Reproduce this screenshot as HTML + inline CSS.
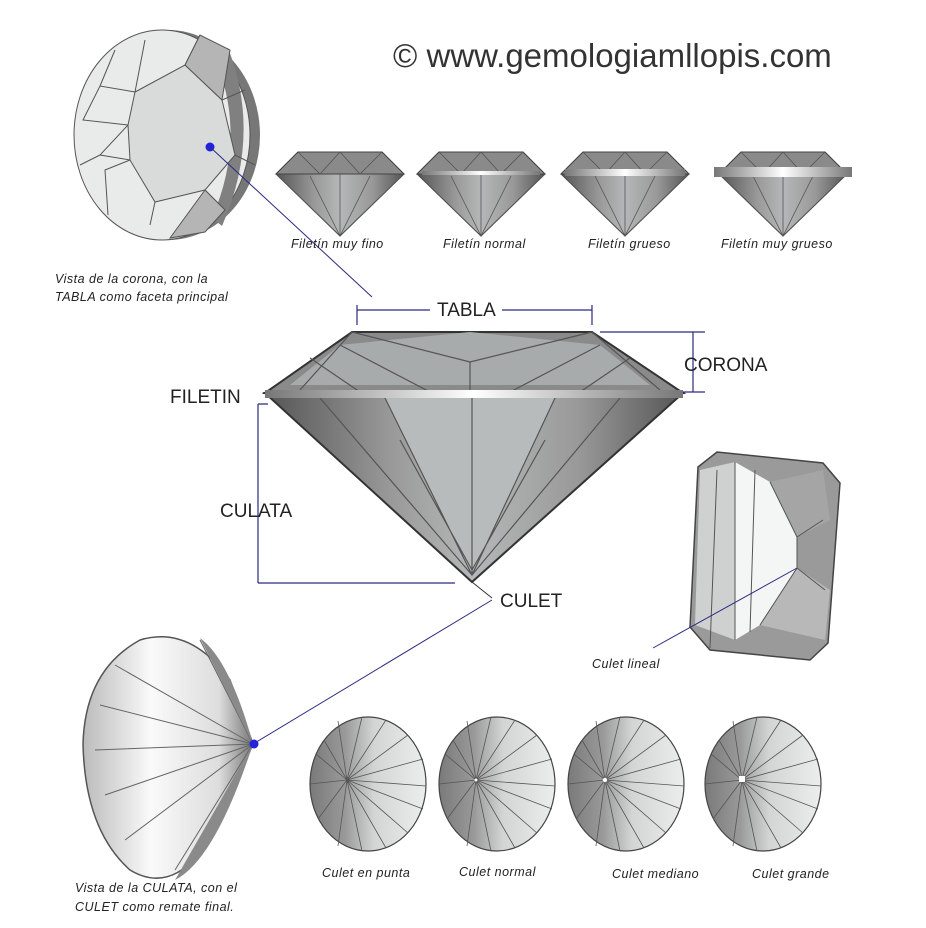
<!DOCTYPE html>
<html><head><meta charset="utf-8"><style>
html,body{margin:0;padding:0;background:#fff}
svg{display:block}
text{font-family:"Liberation Sans",sans-serif}
.it{font-style:italic;font-size:12.5px;fill:#222;letter-spacing:0.5px}
.lb{font-size:19px;fill:#222}
</style></head><body>
<svg width="926" height="928" viewBox="0 0 926 928" xmlns="http://www.w3.org/2000/svg">
<defs>
<linearGradient id="circ" x1="0" x2="1" y1="0" y2="0">
<stop offset="0" stop-color="#7a7a7a"/><stop offset="0.3" stop-color="#999"/><stop offset="0.55" stop-color="#d3d5d5"/><stop offset="1" stop-color="#eceeee"/></linearGradient>
<linearGradient id="pav" x1="0" x2="1"><stop offset="0" stop-color="#555"/><stop offset="0.3" stop-color="#999"/><stop offset="0.5" stop-color="#b5b8b8"/><stop offset="0.75" stop-color="#999"/><stop offset="1" stop-color="#555"/></linearGradient>
<linearGradient id="gird" x1="0" x2="1"><stop offset="0" stop-color="#777"/><stop offset="0.5" stop-color="#fff"/><stop offset="1" stop-color="#777"/></linearGradient>
<linearGradient id="back" x1="0" x2="1"><stop offset="0" stop-color="#bbb"/><stop offset="0.4" stop-color="#fafafa"/><stop offset="0.8" stop-color="#ddd"/><stop offset="1" stop-color="#777"/></linearGradient>
<g id="small">
<polygon points="-64,0 -42,-22 42,-22 64,0 0,62" fill="url(#pav)" stroke="#444" stroke-width="1"/>
<polygon points="-64,0 -42,-22 42,-22 64,0" fill="#8a8a8a" stroke="#444"/>
<path d="M-42,-22 L-20,0 L0,-22 L20,0 L42,-22 M-64,0 L0,62 L64,0 M-30,2 L0,62 L30,2 M0,0 L0,62" stroke="#555" fill="none" stroke-width="0.8"/>
</g>
<g id="circle">
<ellipse cx="0" cy="0" rx="58" ry="67" fill="url(#circ)" stroke="#444" stroke-width="1.2"/>
<path d="M-21,-4 L-30,-63 M-21,-4 L-6,-67 M-21,-4 L18,-64 M-21,-4 L40,-49 M-21,-4 L55,-25 M-21,-4 L58,2 M-21,-4 L55,25 M-21,-4 L40,49 M-21,-4 L18,64 M-21,-4 L-6,67 M-21,-4 L-30,62 M-21,-4 L-50,35 M-21,-4 L-58,0 M-21,-4 L-52,-30 M-21,-4 L-44,-44" stroke="#555" stroke-width="0.8"/>
</g>
</defs>

<text x="393" y="67" font-size="33" fill="#333">© www.gemologiamllopis.com</text>

<!-- crown view -->
<ellipse cx="168" cy="135" rx="92" ry="105" fill="#777"/>
<ellipse cx="162" cy="135" rx="88" ry="105" fill="#e9eaea" stroke="#555"/>
<path d="M228,48 Q262,135 222,226 L212,218 Q248,135 214,56 Z" fill="#808080"/>
<polygon points="135,92 185,65 222,100 235,155 205,190 155,202 130,160 128,125" fill="#d9dbdb" stroke="#555"/>
<path d="M135,92 L100,86 L83,120 L128,125 M128,125 L100,155 L130,160 M130,160 L105,170 L108,215 M155,202 L150,225 M205,190 L225,210 M235,155 L255,165 M222,100 L245,90 M185,65 L200,35 M135,92 L145,40 M100,86 L115,50 M100,155 L80,165" stroke="#555" fill="none"/>
<polygon points="185,65 200,35 230,50 222,100" fill="#b5b5b5" stroke="#555"/>
<polygon points="205,190 225,210 205,232 170,238" fill="#b5b5b5" stroke="#555"/>
<circle cx="210" cy="147" r="4.5" fill="#2222dd"/>
<line x1="210" y1="147" x2="372" y2="297" stroke="#2a2a80" stroke-width="1"/>
<text class="it" x="55" y="283">Vista de la corona, con la</text>
<text class="it" x="55" y="301">TABLA como faceta principal</text>

<use href="#small" x="340" y="174"/>
<use href="#small" x="481" y="174"/>
<use href="#small" x="625" y="174"/>
<use href="#small" x="783" y="174"/>
<rect x="422" y="171" width="118" height="4" fill="url(#gird)"/>
<rect x="565" y="169" width="120" height="7" fill="url(#gird)"/>
<rect x="714" y="167" width="138" height="10" fill="url(#gird)"/>
<text class="it" x="291" y="248">Filetín muy fino</text>
<text class="it" x="443" y="248">Filetín normal</text>
<text class="it" x="588" y="248">Filetín grueso</text>
<text class="it" x="721" y="248">Filetín muy grueso</text>

<!-- main diamond -->
<polygon points="265,393 683,393 472,582" fill="url(#pav)" stroke="#333" stroke-width="2"/>
<polygon points="265,393 352,332 592,332 683,393" fill="#8a8a8a" stroke="#333" stroke-width="2"/>
<polygon points="340,345 470,332 600,345 650,385 290,385" fill="#a8abab"/>
<path d="M352,332 L300,390 M592,332 L660,390 M352,332 L470,362 L592,332 M340,345 L430,392 M600,345 L510,392 M470,362 L470,392 M310,358 L360,392 M630,358 L580,392" stroke="#555" fill="none" stroke-width="1.2"/>
<polygon points="385,398 555,398 472,575" fill="#b8bbbb"/>
<path d="M385,398 L472,575 L555,398 M472,398 L472,575 M320,398 L472,575 L620,398 M400,440 L472,570 M545,440 L472,570" stroke="#555" fill="none" stroke-width="1.2"/>
<rect x="265" y="390" width="418" height="8" fill="url(#gird)"/>
<g stroke="#2a2a80" stroke-width="1.2" fill="none">
<path d="M357,305 L357,325 M357,310 L430,310 M502,310 L592,310 M592,305 L592,325"/>
<path d="M600,332 L705,332 M693,332 L693,392 M683,392 L705,392"/>
<path d="M258,404 L258,583 M258,583 L455,583 M258,404 L268,404"/>
</g>
<line x1="472" y1="582" x2="492" y2="598" stroke="#333"/>
<line x1="492" y1="600" x2="253" y2="744" stroke="#2a2a80"/>
<text class="lb" x="437" y="316">TABLA</text>
<text class="lb" x="684" y="371">CORONA</text>
<text class="lb" x="170" y="403">FILETIN</text>
<text class="lb" x="220" y="517">CULATA</text>
<text class="lb" x="500" y="607">CULET</text>

<!-- emerald -->
<polygon points="698,467 717,452 823,463 840,483 828,643 810,660 710,650 690,627" fill="#9a9a9a" stroke="#444" stroke-width="1.5"/>
<polygon points="700,470 735,462 735,640 695,625" fill="#cfd1d1"/>
<polygon points="735,462 770,482 797,537 797,568 760,625 735,640" fill="#f4f6f6"/>
<polygon points="770,482 823,470 830,520 797,537" fill="#a5a5a5"/>
<polygon points="797,568 830,590 825,640 760,625" fill="#b8b8b8"/>
<path d="M735,462 L735,640 M717,470 L710,648 M755,470 L750,632 M770,482 L797,537 L797,568 L760,625 M797,537 L823,520 M797,568 L825,590" stroke="#555" fill="none"/>
<line x1="653" y1="648" x2="797" y2="568" stroke="#2a2a80"/>
<text class="it" x="592" y="668">Culet lineal</text>

<!-- pavilion view -->
<path d="M253,744 L230,680 Q190,625 140,640 Q85,670 83,744 Q85,830 130,870 Q180,900 220,820 Z" fill="url(#back)" stroke="#555" stroke-width="1.5"/>
<path d="M253,744 L200,640 M253,744 L115,665 M253,744 L100,705 M253,744 L95,750 M253,744 L105,795 M253,744 L125,840 M253,744 L175,870 M253,744 L215,830" stroke="#666" fill="none"/>
<path d="M253,744 L200,638 Q230,660 253,744 Z" fill="#8a8a8a"/>
<path d="M253,744 L175,880 Q215,860 253,744 Z" fill="#8a8a8a"/>
<circle cx="254" cy="744" r="4.5" fill="#2222dd"/>
<text class="it" x="75" y="892">Vista de la CULATA, con  el</text>
<text class="it" x="75" y="911">CULET como remate final.</text>

<use href="#circle" x="368" y="784"/>
<use href="#circle" x="497" y="784"/>
<use href="#circle" x="626" y="784"/>
<use href="#circle" x="763" y="784"/>
<circle cx="476" cy="780" r="1.5" fill="#fff"/>
<circle cx="605" cy="780" r="2.2" fill="#fff"/>
<rect x="739" y="776" width="6" height="6" fill="#fff"/>
<text class="it" x="322" y="877">Culet en punta</text>
<text class="it" x="459" y="876">Culet normal</text>
<text class="it" x="612" y="878">Culet mediano</text>
<text class="it" x="752" y="878">Culet grande</text>
</svg>
</body></html>
